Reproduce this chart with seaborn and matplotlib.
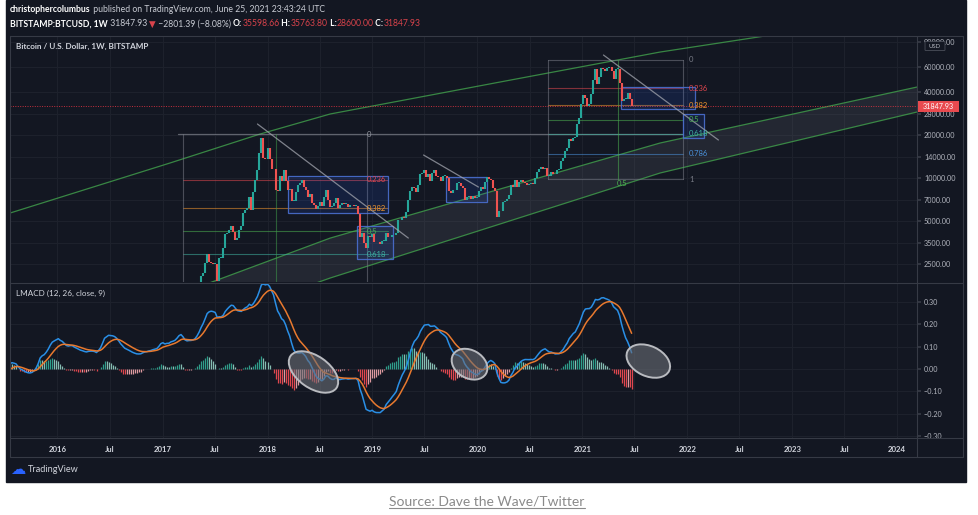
import numpy as np
import pandas as pd
import matplotlib
matplotlib.use("Agg")
import matplotlib.pyplot as plt
import matplotlib.dates as mdates
import matplotlib.ticker as mticker
from matplotlib.patches import Rectangle, Ellipse, FancyBboxPatch
from matplotlib.lines import Line2D
from matplotlib.transforms import IdentityTransform
import seaborn as sns

# ---------------- data: weekly closes (BITSTAMP:BTCUSD, 1W) ----------------
close_2015 = [265, 210, 250, 225, 225, 258, 245, 260, 275, 285, 265, 250, 255, 236, 224, 220,
              240, 242, 237, 241, 230, 225, 233, 245, 250, 260, 310, 275, 290,
              282, 263, 260, 230, 230, 240, 235, 231, 234, 238, 247, 263, 285,
              325, 375, 330, 322, 357, 390, 434, 442, 420, 432]
close_2016 = [447, 387, 403, 378, 376, 407, 438, 432, 405, 412, 410, 416, 424,
              421, 430, 460, 460, 460, 455, 440, 530, 575, 680, 765, 665, 700,
              650, 665, 655, 625, 590, 567, 580, 573, 610, 608, 607, 602, 613,
              618, 640, 655, 700, 705, 705, 730, 735, 765, 770, 790, 890, 970]
close_2017 = [910, 820, 920, 915, 1015, 1000, 1050, 1170, 1270, 1230, 1025, 960, 1080,
              1180, 1190, 1250, 1350, 1550, 1760, 2050, 2150, 2550, 2950, 2600, 2560, 2500,
              2500, 1920, 2750, 2750, 3230, 4050, 4100, 4350, 4600, 4200, 3700, 3780, 4360,
              4600, 5680, 6000, 6150, 7400, 5950, 8000, 9700, 11300, 15000, 19100, 13900, 13500]
close_2018 = [16200, 13600, 11500, 11500, 8200, 8100, 10400, 9600, 11400, 9500, 8200, 8400, 6900,
              6900, 8000, 8900, 9300, 9700, 8700, 8200, 7350, 7700, 6700, 6450, 6100, 6400,
              6750, 6350, 7400, 8200, 7050, 6300, 6400, 6700, 7300, 6200, 6500, 6700, 6600,
              6600, 6300, 6500, 6450, 6400, 6400, 5600, 3900, 4100, 3500, 3250, 3950, 3850, 4050]
close_2019 = [3550, 3550, 3550, 3450, 3650, 3650, 4150, 3850, 3900, 3980, 3990, 4100,
              5050, 5100, 5300, 5250, 5750, 7000, 8050, 8700, 8550, 8000, 8900, 10750, 10800,
              11400, 10200, 10600, 9500, 10900, 11400, 10300, 10150, 9600,
              10300, 10300, 10000, 8050, 7900, 8300, 8200, 9200, 9200, 8800, 8500, 7000, 7400,
              7500, 7100, 7500, 7300, 7400]
close_2020 = [8100, 8700, 8350, 9350, 10150, 9900, 9650, 8550, 8050, 5350, 5850, 5900, 6800,
              6900, 7100, 7550, 8900, 8700, 9700, 8700, 9450, 9700, 9350, 9300, 9000, 9100,
              9250, 9150, 9950, 11050, 11600, 11900, 11650, 11700, 10300, 10350, 11100, 10750, 10600,
              11350, 11500, 13100, 13800, 15500, 16100, 18700, 18200, 19150, 19250, 24000, 26450, 33000]
close_2021 = [38150, 36000, 32100, 33100, 38900, 48600, 57500, 45200, 50950, 59000, 57500, 55800,
              58700, 59800, 56200, 49000, 57800, 58200, 46500, 34700, 35700, 35800, 39100,
              35598.66, 31847.93]
first_mondays = ["2015-01-05", "2016-01-04", "2017-01-02", "2018-01-01",
                 "2019-01-07", "2020-01-06", "2021-01-04"]
yearly = [close_2015, close_2016, close_2017, close_2018, close_2019, close_2020, close_2021]

price_ticks = [2500, 3500, 5000, 7000, 10000, 14000, 20000, 28000, 40000, 60000, 90000]
macd_ticks = [-0.3, -0.2, -0.1, 0.0, 0.1, 0.2, 0.3]
time_ticks = ["2016-01-01", "2016-07-01", "2017-01-01", "2017-07-01", "2018-01-01", "2018-07-01",
              "2019-01-01", "2019-07-01", "2020-01-01", "2020-07-01", "2021-01-01", "2021-07-01",
              "2022-01-01", "2022-07-01", "2023-01-01", "2023-07-01", "2024-01-01"]
time_labels = ["2016", "Jul", "2017", "Jul", "2018", "Jul", "2019", "Jul", "2020", "Jul",
               "2021", "Jul", "2022", "Jul", "2023", "Jul", "2024"]
LAST_PRICE = 31847.93

# drawings (date, price) anchors
top_curve_dates = ["2015-07-20", "2017-01-27", "2017-12-06", "2018-08-07", "2020-03-20",
                   "2021-09-28", "2022-09-28", "2023-01-28"]
top_curve_prices = [5690, 12740, 20300, 28030, 46900, 76000, 98400, 107000]
chan_up_dates = ["2017-04-07", "2017-07-10", "2018-08-07", "2020-03-20", "2021-09-28", "2024-03-10"]
chan_up_prices = [1648, 1935, 3802, 8376, 17570, 43270]
chan_lo_dates = ["2018-05-30", "2018-08-07", "2020-03-20", "2021-09-28", "2024-03-10"]
chan_lo_prices = [1785, 1999, 4768, 10840, 28940]
trend_lines = [(("2017-11-27", 23860), ("2019-05-06", 3805)),
               (("2019-06-28", 14480), ("2020-01-05", 8650)),
               (("2021-03-15", 72440), ("2022-04-19", 18440))]
boxes = [("2018-03-15", "2019-02-25", 5690, 10330),
         ("2018-11-10", "2019-03-15", 2714, 4617),
         ("2019-09-15", "2020-02-05", 6795, 10163),
         ("2021-05-16", "2022-01-28", 30370, 43290),
         ("2021-12-17", "2022-02-28", 19040, 28030)]
fib_ratios = [0, 0.236, 0.382, 0.5, 0.618, 0.786, 1]
fib_labels = ["0", "0.236", "0.382", "0.5", "0.618", "0.786", "1"]
fib_colors = ["#787b86", "#e0474f", "#f0962e", "#4caf50", "#3fb3a0", "#4a90d9", "#787b86"]

ell_dates = ["2018-06-10", "2019-12-05", "2021-08-18"]
ell_vals = [-0.013, 0.022, 0.036]
ell_w = [56, 38, 46]
ell_h = [32, 28, 30]
ell_ang = [-35, -30, -25]

# ---------------- style ----------------
BG = "#131722"
FRAME = "#363a45"
GRID = "#1e222d"
TXT = "#b2b5be"
UP = "#26a69a"
DOWN = "#ef5350"
sns.set_theme(style="dark", rc={"axes.facecolor": BG, "figure.facecolor": "white",
                                "axes.edgecolor": BG, "patch.force_edgecolor": False})
plt.rcParams["font.family"] = ["Lato", "DejaVu Sans"]

W, H = 979, 515
fig = plt.figure(figsize=(W / 100, H / 100), dpi=100)
def FX(x): return x / W
def FY(y): return 1 - y / H

fig.add_artist(Rectangle((FX(6), FY(482)), (966 - 6) / W, 482 / H, transform=fig.transFigure,
                         color=BG, zorder=-10))

ax_p = fig.add_axes([FX(10), FY(282), (917 - 10) / W, (282 - 36) / H])
ax_m = fig.add_axes([FX(10), FY(438), (917 - 10) / W, (438 - 283) / H])

# ---------------- series ----------------
dates = pd.DatetimeIndex(np.concatenate([
    pd.date_range(d, periods=len(v), freq="7D").values for d, v in zip(first_mondays, yearly)]))
close = np.concatenate([np.asarray(v, float) for v in yearly])
opens = np.concatenate([[close[0]], close[:-1]])

# LMACD: (EMA12 - EMA26) / EMA12 on geometric (log) EMAs
lc = pd.Series(np.log10(close))
ema_fast = lc.ewm(span=12, adjust=False).mean()
ema_slow = lc.ewm(span=26, adjust=False).mean()
lmacd = 1 - 10 ** (ema_slow - ema_fast)
signal = lmacd.ewm(span=9, adjust=False).mean()
hist = (lmacd - signal).values

XMIN, XMAX = pd.Timestamp("2015-07-20"), pd.Timestamp("2024-03-10")

# ---------------- price pane ----------------
ax_p.set_yscale("log")
ax_p.set_xlim(XMIN, XMAX)
ax_p.set_ylim(1875, 98400)

poly_x = list(pd.to_datetime(chan_up_dates)) + list(pd.to_datetime(chan_lo_dates))[::-1]
poly_y = chan_up_prices + chan_lo_prices[::-1]
ax_p.fill(mdates.date2num(poly_x), poly_y, color="#787b86", alpha=0.16, lw=0, zorder=1)

for dd, pp in [(top_curve_dates, top_curve_prices), (chan_up_dates, chan_up_prices),
               (chan_lo_dates, chan_lo_prices)]:
    sns.lineplot(x=pd.to_datetime(dd), y=pp, ax=ax_p, sort=False, estimator=None,
                 color="#3f9a4a", lw=0.9, alpha=0.85, zorder=2)

def fib_price(p0, p1, r):
    return 10 ** (np.log10(p0) - r * (np.log10(p0) - np.log10(p1)))

# fib set 1 (2017 top)
F1_P0, F1_P1 = 20300, 891
f1_start, f1_end, f1_lab = pd.Timestamp("2017-03-13"), pd.Timestamp("2019-02-24"), pd.Timestamp("2018-12-12")
ax_p.plot([pd.Timestamp("2017-02-25"), pd.Timestamp("2021-12-18")], [F1_P0, F1_P0],
          color="#9598a1", lw=0.9, alpha=0.6, zorder=2)
for r, lab, c in list(zip(fib_ratios, fib_labels, fib_colors))[1:5]:
    p = fib_price(F1_P0, F1_P1, r)
    ax_p.plot([f1_start, f1_end], [p, p], color=c, lw=0.8, alpha=0.55, zorder=2)
    ax_p.text(f1_lab, p, lab, color=c, fontsize=5.5, va="center", ha="left", zorder=8)
ax_p.text(f1_lab, F1_P0, "0", color="#9598a1", fontsize=5.5, va="center", ha="left", zorder=8)
for d, c in [("2017-03-13", "#787b86"), ("2018-12-12", "#787b86"), ("2018-01-29", "#3f9a4a")]:
    ax_p.plot([pd.Timestamp(d)] * 2, [F1_P0, 1000], color=c, lw=0.8, alpha=0.55, zorder=2)

# fib set 2 (2021 top)
F2_P0, F2_P1 = 66870, 9840
f2_start, f2_end, f2_lab = pd.Timestamp("2020-09-03"), pd.Timestamp("2021-12-18"), pd.Timestamp("2022-01-07")
for r, lab, c in zip(fib_ratios, fib_labels, fib_colors):
    p = fib_price(F2_P0, F2_P1, r)
    ax_p.plot([f2_start, f2_end], [p, p], color=c, lw=0.8, alpha=0.55, zorder=2)
    ax_p.text(f2_lab, p, lab, color=c, fontsize=5.5, va="center", ha="left", zorder=8)
for d, c in [("2020-09-03", "#787b86"), ("2021-12-18", "#787b86"), ("2021-05-04", "#4caf50")]:
    ax_p.plot([pd.Timestamp(d)] * 2, [F2_P0, F2_P1], color=c, lw=0.8, alpha=0.55, zorder=2)
ax_p.text(pd.Timestamp("2021-05-20"), F2_P1 * 0.93, "0.5", color="#4caf50", fontsize=5.5,
          va="center", ha="center", zorder=8)

# boxes
for d0, d1, p0, p1 in boxes:
    x0, x1 = mdates.date2num(pd.Timestamp(d0)), mdates.date2num(pd.Timestamp(d1))
    ax_p.add_patch(Rectangle((x0, p0), x1 - x0, p1 - p0, fc="#2962ff", alpha=0.13, lw=0,
                             ec="none", zorder=3))
    ax_p.add_patch(Rectangle((x0, p0), x1 - x0, p1 - p0, fill=False, ec="#4a6fd0", lw=0.9,
                             alpha=0.9, zorder=3))

# price line
ax_p.axhline(LAST_PRICE, color="#f23645", lw=0.7, ls=(0, (1, 1.5)), alpha=0.8, zorder=2)

# candles (bodies drawn as thick vertical segments)
up = close >= opens
body_lo = np.minimum(opens, close)
body_hi = np.maximum(np.maximum(opens, close), body_lo * 1.012)
ccol = np.where(up, UP, DOWN)
ax_p.vlines(dates, body_lo, body_hi, colors=ccol, lw=1.5, capstyle="butt", zorder=4)

# trend lines
for (d0, p0), (d1, p1) in trend_lines:
    ax_p.plot([pd.Timestamp(d0), pd.Timestamp(d1)], [p0, p1], color="#a3a6af", lw=0.9,
              alpha=0.75, zorder=5)

ax_p.set_xlim(XMIN, XMAX)
ax_p.set_ylim(1875, 98400)
ax_p.set_xlabel("")
ax_p.set_ylabel("")
ax_p.yaxis.set_minor_locator(mticker.NullLocator())
ax_p.set_yticks(price_ticks, [f"{t:.2f}" for t in price_ticks])
ax_p.set_xticks(pd.to_datetime(time_ticks))
ax_p.tick_params(axis="x", labelbottom=False, length=0)
ax_p.tick_params(axis="y", which="both", left=False, labelleft=False, right=True, labelright=True,
                 labelsize=5.2, labelcolor=TXT, color=FRAME, length=3, pad=2)
ax_p.grid(True, color=GRID, lw=0.7)
ax_p.set_axisbelow(True)
for s in ax_p.spines.values():
    s.set_visible(False)

# ---------------- MACD pane ----------------
hcol = []
for i, h in enumerate(hist):
    prev = hist[i - 1] if i > 0 else h
    if h >= 0:
        hcol.append("#2f9e8a" if h >= prev else "#86bdb2")
    else:
        hcol.append("#e0474f" if h <= prev else "#dd9aa0")
ax_m.vlines(dates, 0, hist, colors=hcol, lw=0.9, capstyle="butt", zorder=2)
sns.lineplot(x=dates, y=lmacd.values, ax=ax_m, color="#2a8fe6", lw=1.1, estimator=None, zorder=4)
sns.lineplot(x=dates, y=signal.values, ax=ax_m, color="#e8792e", lw=1.1, estimator=None, zorder=4)
ax_m.set_xlim(XMIN, XMAX)
ax_m.set_ylim(-0.309, 0.386)
ax_m.set_xlabel("")
ax_m.set_ylabel("")
ax_m.set_yticks(macd_ticks, [f"{t:.2f}".replace("-", "\u2212") for t in macd_ticks])
ax_m.set_xticks(pd.to_datetime(time_ticks), time_labels)
ax_m.tick_params(axis="y", left=False, labelleft=False, right=True, labelright=True,
                 labelsize=5.2, labelcolor=TXT, color=FRAME, length=3, pad=2)
ax_m.tick_params(axis="x", labelsize=5.6, labelcolor="#d1d4dc", color=FRAME, length=2, pad=4)
for lbl in ax_m.get_xticklabels():
    lbl.set_fontweight("bold")
ax_m.grid(True, color=GRID, lw=0.7)
ax_m.set_axisbelow(True)
for s in ax_m.spines.values():
    s.set_visible(False)

for d, v, w, h, a in zip(ell_dates, ell_vals, ell_w, ell_h, ell_ang):
    cx, cy = ax_m.transData.transform((mdates.date2num(pd.Timestamp(d)), v))
    ax_m.add_artist(Ellipse((cx, cy), w, h, angle=a, transform=IdentityTransform(),
                            fc="#6b6e76", alpha=0.6, lw=0, ec="none", zorder=6))
    ax_m.add_artist(Ellipse((cx, cy), w, h, angle=a, transform=IdentityTransform(),
                            fill=False, ec="#b9bbc0", lw=1.4, zorder=6))

# ---------------- frame ----------------
def fline(xs, ys, c=FRAME, lw=0.8):
    fig.add_artist(Line2D([FX(x) for x in xs], [FY(y) for y in ys], transform=fig.transFigure,
                          color=c, lw=lw, zorder=10))
fline([10, 963, 963, 10, 10], [36, 36, 457, 457, 36])
fline([917, 917], [36, 457])
fline([10, 963], [282.5, 282.5])
fline([10, 963], [438, 438])

# price label
py = ax_p.transData.transform((mdates.date2num(XMIN), LAST_PRICE))[1]
fig.add_artist(Rectangle((918, py - 5.5), 41, 11, transform=IdentityTransform(), fc="#e84a4f",
                         lw=0, ec="none", zorder=11))
fig.text(FX(938.5), py / H, "31847.93", color="white", fontsize=5.2, ha="center", va="center",
         zorder=12)
# USD badge (sits over the top price label, as in TradingView)
fig.add_artist(FancyBboxPatch((FX(926), FY(50)), 18 / W, 8 / H, boxstyle="round,pad=0.001",
                              transform=fig.transFigure, fc=BG, ec="#4a4e59", lw=0.6, zorder=11))
fig.text(FX(935), FY(46), "USD", color=TXT, fontsize=4.3, ha="center", va="center", zorder=12)

# ---------------- texts ----------------
renderer = fig.canvas.get_renderer()
def chain(x, y, parts, size):
    cur = x
    for s, color, weight in parts:
        t = fig.text(FX(cur), FY(y), s, color=color, fontsize=size, fontweight=weight,
                     ha="left", va="center", zorder=12)
        cur += t.get_window_extent(renderer=renderer).width

RED = "#d9434b"
chain(10, 10, [("christophercolumbus", "white", "bold"),
               (" published on TradingView.com, June 25, 2021 23:43:24 UTC", "#c9ccd4", "normal")], 6.2)
chain(10, 24, [("BITSTAMP:BTCUSD, 1W", "white", "bold"), (" 31847.93 ", "#c9ccd4", "normal"),
               ("\u25bc", RED, "normal"), (" \u22122801.39 (\u22128.08%) ", "#c9ccd4", "normal"),
               ("O:", "white", "bold"), ("35598.66", RED, "normal"),
               (" H:", "white", "bold"), ("35763.80", RED, "normal"),
               (" L:", "white", "bold"), ("28600.00", RED, "normal"),
               (" C:", "white", "bold"), ("31847.93", RED, "normal")], 6.2)
fig.text(FX(16), FY(46), "Bitcoin / U.S. Dollar, 1W, BITSTAMP", color="#d1d4dc", fontsize=5.9,
         fontweight="bold", ha="left", va="center", zorder=12)
fig.text(FX(16), FY(293), "LMACD (12, 26, close, 9)", color="#d1d4dc", fontsize=5.9,
         ha="left", va="center", zorder=12)
fig.text(FX(10), FY(469), "\u2601", color="#2962ff", fontsize=11, ha="left", va="center",
         family=["DejaVu Sans"], zorder=12)
fig.text(FX(28), FY(469), "TradingView", color="#d1d4dc", fontsize=6.6, ha="left", va="center",
         zorder=12)
src = fig.text(FX(487), FY(502), "Source: Dave the Wave/Twitter", color="#8a8a8a", fontsize=10,
               ha="center", va="center", zorder=12)
bb = src.get_window_extent(renderer=renderer)
fig.add_artist(Line2D([bb.x0 / W, bb.x1 / W], [(bb.y0 + 0.5) / H] * 2, transform=fig.transFigure,
                      color="#8a8a8a", lw=0.8))

fig.savefig("out.png", dpi=100)
